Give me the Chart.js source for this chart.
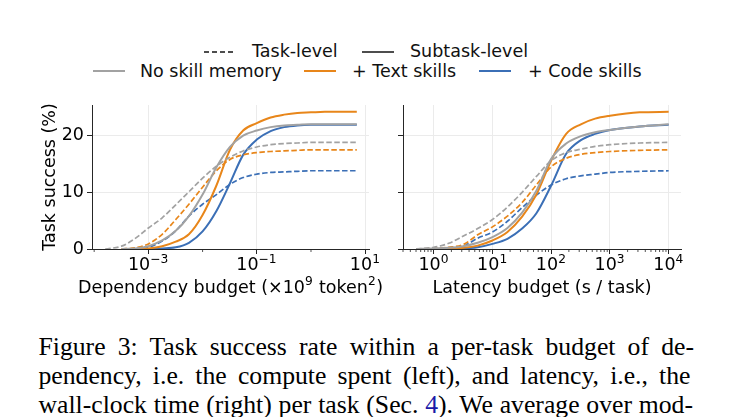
<!DOCTYPE html>
<html>
<head>
<meta charset="utf-8">
<script src="https://cdn.jsdelivr.net/npm/chart.js@4.4.1/dist/chart.umd.min.js"></script>
<style>
  body { margin: 0; background: #fff; width: 732px; height: 417px; overflow: hidden; position: relative; font-family: 'DejaVu Sans', sans-serif; }
  canvas { position: absolute; }
  #depChart { left: 0; top: 95px; }
  #latChart { left: 330px; top: 95px; }
  .leg { position: absolute; font-size: 17.5px; line-height: 20px; color: #111; white-space: nowrap; }
  .sw { position: absolute; }
  #caption { position: absolute; left: 38.5px; top: 331.6px; font-family: 'Liberation Serif', serif; font-size: 25.7px; line-height: 29.3px; color: #000; }
  #caption .line { display: block; height: 29.3px; white-space: nowrap; }
  #caption .line span.t { display: inline-block; }
  #caption .ref { color: #1a1aa8; }
</style>
</head>
<body>
<div id="legend"></div>
<canvas id="depChart" width="400" height="210"></canvas>
<canvas id="latChart" width="402" height="210"></canvas>
<div id="caption">
  <div class="line"><span class="t">Figure 3: Task success rate within a per-task budget of de-</span></div>
  <div class="line"><span class="t">pendency, i.e. the compute spent (left), and latency, i.e., the</span></div>
  <div class="line"><span class="t">wall-clock time (right) per task (Sec. <span class="ref">4</span>). We average over mod-</span></div>
</div>
<script>
// --- data ---
const methods = ['No skill memory', '+ Text skills', '+ Code skills'];
const levels = ['Task-level', 'Subtask-level'];

// dependency budget (x10^9 token^2)
const depBudget = [0.00016, 0.00032, 0.00056, 0.001, 0.0018, 0.0032, 0.0056, 0.01, 0.018, 0.032,
                   0.056, 0.1, 0.18, 0.32, 0.56, 1, 1.8, 3.2, 7];
const depNoSkillTask = [0, 0.5, 1.8, 3.7, 5.5, 7.8, 10.1, 12.5, 14.6, 16.2, 17.3, 18.0, 18.4, 18.6, 18.7, 18.8, 18.8, 18.8, 18.8];
const depTextTask    = [null, 0, 0.2, 0.9, 2.6, 5.2, 7.9, 10.9, 13.8, 15.8, 16.6, 17.0, 17.2, 17.3, 17.4, 17.5, 17.5, 17.5, 17.5];
const depCodeTask    = [null, null, 0, 0.3, 1.4, 3.2, 5.8, 7.9, 9.6, 11.4, 12.6, 13.2, 13.5, 13.6, 13.7, 13.8, 13.8, 13.8, 13.8];
const depNoSkillSub  = [null, 0, 0.1, 0.5, 1.5, 3.2, 5.8, 9.6, 14.4, 18.0, 20.0, 20.9, 21.5, 21.8, 21.9, 22.0, 22.0, 22.0, 22.0];
const depTextSub     = [null, 0, 0, 0.1, 0.5, 1.3, 2.6, 6.0, 11.2, 17.5, 20.9, 22.2, 23.2, 23.7, 24.0, 24.1, 24.2, 24.2, 24.2];
const depCodeSub     = [null, null, 0, 0, 0.1, 0.3, 1.1, 3.1, 6.7, 11.6, 16.6, 19.3, 20.8, 21.5, 21.8, 21.9, 21.9, 21.9, 21.9];

// latency budget (s / task)
const latBudget = [0.5, 1, 1.8, 3.2, 5.6, 10, 18, 32, 56, 100, 180, 320, 560, 1000, 3200, 10000];
const latNoSkillTask = [0, 0.3, 1.0, 2.3, 3.6, 5.2, 7.4, 10.0, 12.8, 15.6, 17.0, 17.6, 18.1, 18.4, 18.7, 18.8];
const latTextTask    = [0, 0.1, 0.3, 0.8, 2.5, 3.9, 5.8, 8.2, 11.3, 14.5, 16.0, 16.7, 17.0, 17.2, 17.4, 17.5];
const latCodeTask    = [0, 0, 0.1, 0.5, 1.9, 3.0, 4.9, 7.3, 9.5, 11.3, 12.4, 12.9, 13.2, 13.5, 13.7, 13.8];
const latNoSkillSub  = [0, 0.1, 0.2, 0.5, 1.1, 2.1, 3.7, 6.4, 10.3, 15.9, 18.6, 19.9, 20.6, 21.0, 21.6, 22.0];
const latTextSub     = [0, 0, 0.1, 0.2, 0.6, 1.5, 3.0, 5.7, 9.6, 15.6, 20.3, 22.0, 23.0, 23.5, 24.1, 24.2];
const latCodeSub     = [0, 0, 0, 0.1, 0.3, 0.9, 1.8, 3.6, 6.3, 11.2, 16.8, 19.2, 20.3, 21.0, 21.6, 21.9];

// tick labels as [base, superscript]
const depTicks = [1e-3, 1e-1, 1e1];
const depTickLabels = [['10', '−3'], ['10', '−1'], ['10', '1']];
const latTicks = [1, 10, 100, 1000, 10000];
const latTickLabels = [['10', '0'], ['10', '1'], ['10', '2'], ['10', '3'], ['10', '4']];
const successTicks = [0, 10, 20];
const depTitle = ['Dependency budget (×10', '9', ' token', '2', ')'];
const latTitle = ['Latency budget (s / task)'];

// --- styles ---
const colors = ['#a2a2a2', '#e8861a', '#3b6fb6'];
const levelColor = '#4d4d4d';
const axisColor = '#262626';
const gridColor = '#ebebeb';
const fontSize = 17.5;
const fontFamily = "'DejaVu Sans'";

Chart.defaults.font.family = fontFamily;
Chart.defaults.font.size = fontSize;
Chart.defaults.color = '#000';

// legend (html)
const legendItems = [
  { text: levels[0], color: levelColor, dash: true,  sx: 204, tx: 252, y: 41.2 },
  { text: levels[1], color: levelColor, dash: false, sx: 362, tx: 410, y: 41.2 },
  { text: methods[0], color: colors[0], dash: false, sx: 93,  tx: 140, y: 60.6 },
  { text: methods[1], color: colors[1], dash: false, sx: 304, tx: 352, y: 60.6 },
  { text: methods[2], color: colors[2], dash: false, sx: 479, tx: 528, y: 60.6 }
];
const legendEl = document.getElementById('legend');
legendItems.forEach(it => {
  const sw = document.createElementNS('http://www.w3.org/2000/svg', 'svg');
  sw.setAttribute('class', 'sw');
  sw.setAttribute('width', 34);
  sw.setAttribute('height', 6);
  sw.style.left = it.sx + 'px';
  sw.style.top = (it.y + 7.8) + 'px';
  sw.innerHTML = '<line x1="0" y1="3" x2="32" y2="3" stroke="' + it.color + '" stroke-width="2"' +
    (it.dash ? ' stroke-dasharray="5 3"' : '') + '/>';
  legendEl.appendChild(sw);
  const t = document.createElement('div');
  t.className = 'leg';
  t.style.left = it.tx + 'px';
  t.style.top = it.y + 'px';
  t.textContent = it.text;
  legendEl.appendChild(t);
});

// justify caption lines to the reference's right edges
const captionWidths = [655.5, 652, 654.5];
document.querySelectorAll('#caption .line span.t').forEach((el, i) => {
  const natural = el.getBoundingClientRect().width;
  const gaps = (el.textContent.match(/ /g) || []).length;
  el.style.wordSpacing = ((captionWidths[i] - natural) / gaps) + 'px';
});

// text with superscripts, parts alternate normal / superscript
function drawRich(ctx, parts, cx, base) {
  const big = fontSize + 'px ' + fontFamily, small = (fontSize * 0.7) + 'px ' + fontFamily;
  const widths = parts.map((p, i) => { ctx.font = i % 2 ? small : big; return ctx.measureText(p).width + (i % 2 ? 0.6 : 0); });
  let x = cx - widths.reduce((a, b) => a + b, 0) / 2;
  parts.forEach((p, i) => {
    ctx.font = i % 2 ? small : big;
    ctx.fillText(p, x, i % 2 ? base - fontSize * 0.41 : base);
    x += widths[i];
  });
}

const axisText = {
  id: 'axisText',
  afterDraw(chart, args, o) {
    const ctx = chart.ctx, sx = chart.scales.x, area = chart.chartArea;
    ctx.save();
    ctx.fillStyle = '#000';
    ctx.textAlign = 'left';
    ctx.textBaseline = 'alphabetic';
    o.ticks.forEach((v, i) => drawRich(ctx, o.labels[i], sx.getPixelForValue(v), area.bottom + 21));
    drawRich(ctx, o.title, (area.left + area.right) / 2, area.bottom + 43.5);
    // minor tick marks
    ctx.strokeStyle = axisColor;
    ctx.lineWidth = 0.8;
    o.minor.forEach(v => {
      if (v < sx.min || v > sx.max) return;
      const px = sx.getPixelForValue(v);
      ctx.beginPath();
      ctx.moveTo(px, area.bottom);
      ctx.lineTo(px, area.bottom + 3);
      ctx.stroke();
    });
    ctx.restore();
  }
};

function makeSets(x, task, sub) {
  const sets = [];
  for (let i = 0; i < 3; i++) {
    sets.push({
      label: methods[i] + ' (' + levels[0] + ')',
      data: x.map((v, j) => ({ x: v, y: task[i][j] })),
      borderColor: colors[i], borderWidth: 1.7, borderDash: [5.5, 2.5]
    });
    sets.push({
      label: methods[i] + ' (' + levels[1] + ')',
      data: x.map((v, j) => ({ x: v, y: sub[i][j] })),
      borderColor: colors[i], borderWidth: 2
    });
  }
  return sets;
}

function xScale(min, max, ticks) {
  return {
    type: 'logarithmic', min: min, max: max,
    afterBuildTicks: s => { s.ticks = ticks.map(v => ({ value: v })); },
    afterFit: s => { s.height = 56; s.paddingLeft = 0; s.paddingRight = 0; },
    ticks: { autoSkip: false, maxRotation: 0, callback: () => '' },
    grid: { color: gridColor, tickColor: axisColor, tickLength: 5, lineWidth: 1 },
    border: { color: axisColor, width: 1 }
  };
}

function yScale(width, showLabels) {
  return {
    min: 0, max: 25.4,
    afterBuildTicks: s => { s.ticks = successTicks.map(v => ({ value: v })); },
    afterFit: s => { s.width = width; s.paddingTop = 0; s.paddingBottom = 0; },
    ticks: { display: showLabels, padding: 3 },
    grid: {
      color: c => (c.tick && c.tick.value === 0) ? 'rgba(0,0,0,0)' : gridColor,
      tickColor: axisColor, tickLength: 5, lineWidth: 1
    },
    border: { color: axisColor, width: 1 },
    title: { display: showLabels, text: 'Task success (%)', padding: { top: 39.5, bottom: 0 } }
  };
}

const latMinor = [];
for (let e = -1; e <= 3; e++) for (let k = 2; k <= 9; k++) latMinor.push(k * Math.pow(10, e));

function makeChart(id, x, task, sub, xs, ys, pad, text) {
  return new Chart(document.getElementById(id), {
    type: 'line',
    data: { datasets: makeSets(x, task, sub) },
    options: {
      responsive: false,
      animation: false,
      devicePixelRatio: 1,
      layout: { padding: pad },
      elements: { point: { radius: 0 }, line: { cubicInterpolationMode: 'monotone' } },
      scales: { x: xs, y: ys },
      plugins: { legend: { display: false }, tooltip: { enabled: false }, axisText: text }
    },
    plugins: [axisText]
  });
}

makeChart('depChart', depBudget,
  [depNoSkillTask, depTextTask, depCodeTask], [depNoSkillSub, depTextSub, depCodeSub],
  xScale(Math.pow(10, -4.04), Math.pow(10, 1.07), depTicks),
  yScale(92, true), { left: 0, top: 10, right: 31, bottom: 0 },
  { ticks: depTicks, labels: depTickLabels, title: depTitle, minor: [1e-4, 1e-2, 1] });

makeChart('latChart', latBudget,
  [latNoSkillTask, latTextTask, latCodeTask], [latNoSkillSub, latTextSub, latCodeSub],
  xScale(Math.pow(10, -0.49), Math.pow(10, 4.21), latTicks),
  yScale(73, false), { left: 0, top: 10, right: 51, bottom: 0 },
  { ticks: latTicks, labels: latTickLabels, title: latTitle, minor: latMinor });
</script>
</body>
</html>
